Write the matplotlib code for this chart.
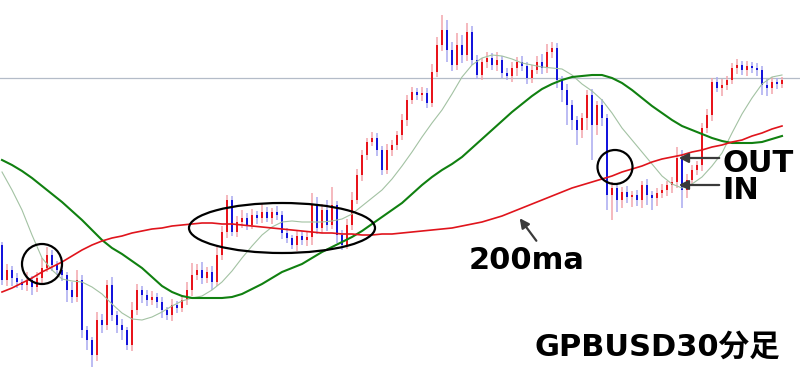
import matplotlib
matplotlib.use("Agg")
import matplotlib.pyplot as plt
from matplotlib.patches import Ellipse

# 30-minute candles, levels (top of chart = higher price)
first_open = 245
close = [
    280, 270, 278, 282, 285, 280, 287, 278, 268, 255,
    265, 270, 275, 290, 297, 280, 330, 340, 355, 320,
    325, 285, 315, 325, 330, 345, 310, 290, 295, 300,
    297, 302, 310, 315, 305, 308, 300, 290, 275, 270,
    278, 272, 282, 255, 232, 200, 232, 222, 218, 225,
    215, 218, 212, 218, 212, 215, 233, 238, 245, 236,
    240, 237, 205, 228, 210, 225, 205, 235, 245, 225,
    200, 175, 155, 142, 138, 150, 170, 150, 145, 135,
    120, 100, 92, 95, 93, 103, 72, 45, 30, 50,
    65, 45, 55, 32, 60, 75, 62, 58, 65, 60,
    73, 76, 68, 62, 66, 78, 70, 62, 68, 52,
    48, 80, 90, 105, 120, 130, 118, 95, 125, 105,
    118, 195, 188, 200, 192, 197, 195, 200, 185, 195,
    198, 193, 190, 185, 182, 158, 190, 180, 170, 165,
    128, 115, 82, 88, 85, 80, 68, 65, 70, 66,
    68, 70, 85, 88, 82, 84, 80,
]
upper_wick = [
    3, 6, 4, 5, 3, 8, 4, 6, 10, 8,
    5, 4, 6, 3, 8, 10, 5, 4, 3, 8,
    6, 5, 8, 4, 6, 3, 8, 6, 4, 5,
    6, 4, 5, 3, 6, 4, 5, 8, 12, 6,
    8, 5, 6, 8, 6, 5, 4, 6, 8, 5,
    6, 4, 8, 5, 4, 6, 4, 5, 3, 6,
    5, 6, 12, 8, 6, 10, 18, 4, 5, 6,
    8, 6, 5, 4, 6, 5, 4, 6, 5, 4,
    6, 5, 5, 4, 6, 5, 8, 8, 15, 10,
    8, 12, 10, 9, 6, 5, 4, 6, 5, 8,
    4, 5, 6, 5, 6, 4, 5, 6, 8, 8,
    6, 5, 4, 6, 5, 4, 5, 5, 6, 4,
    6, 4, 6, 4, 5, 6, 4, 5, 4, 6,
    4, 5, 6, 4, 5, 11, 8, 6, 5, 4,
    5, 6, 4, 5, 6, 4, 5, 6, 4, 5,
    4, 5, 4, 6, 5, 4, 3,
]
lower_wick = [
    5, 6, 8, 6, 5, 6, 8, 5, 6, 4,
    6, 5, 6, 12, 6, 5, 8, 10, 12, 6,
    8, 5, 6, 8, 10, 5, 6, 5, 8, 6,
    5, 6, 8, 5, 6, 5, 4, 5, 6, 5,
    6, 5, 8, 4, 5, 6, 4, 5, 6, 5,
    4, 6, 5, 4, 6, 5, 6, 5, 4, 6,
    5, 6, 8, 6, 5, 6, 4, 8, 5, 4,
    5, 4, 6, 5, 4, 6, 5, 4, 6, 5,
    5, 6, 4, 5, 6, 5, 4, 5, 6, 12,
    6, 5, 8, 6, 5, 4, 5, 6, 5, 6,
    5, 4, 6, 8, 5, 6, 5, 4, 6, 5,
    6, 8, 12, 20, 10, 15, 8, 12, 35, 10,
    8, 15, 25, 12, 8, 6, 10, 6, 8, 10,
    12, 8, 5, 6, 8, 6, 18, 8, 6, 5,
    6, 5, 6, 4, 8, 5, 4, 6, 5, 6,
    5, 6, 10, 8, 6, 5, 4,
]

# moving averages sampled every 2 bars
ma_bars = list(range(0, 157, 2))
ma200 = [292, 288, 283, 278, 272, 267, 262, 256, 250, 245,
         241, 238, 236, 233, 231, 229, 228, 226, 225, 224,
         223, 223, 224, 224, 225, 226, 227, 228, 229, 230,
         231, 232, 233, 233, 234, 234, 235, 235, 234, 234,
         233, 232, 231, 230, 229, 228, 226, 224, 222, 219,
         216, 212, 208, 204, 200, 196, 192, 188, 185, 182,
         179, 176, 172, 169, 166, 162, 159, 157, 155, 152,
         150, 147, 145, 142, 140, 136, 133, 129, 126]
ma75 = [160, 165, 171, 178, 186, 194, 202, 211, 220, 230,
        240, 248, 254, 261, 268, 277, 286, 292, 296, 298,
        298, 298, 298, 297, 294, 289, 284, 278, 272, 268,
        264, 258, 252, 247, 242, 237, 231, 224, 217, 210,
        203, 194, 185, 177, 170, 164, 157, 148, 139, 130,
        121, 112, 104, 96, 89, 84, 80, 77, 76, 75,
        75, 78, 83, 90, 98, 106, 113, 120, 126, 130,
        134, 138, 141, 143, 143, 143, 142, 139, 136]
ma20 = [172, 190, 210, 235, 258, 270, 279, 281, 282, 287,
        294, 304, 313, 319, 320, 317, 312, 306, 301, 298,
        296, 290, 282, 271, 258, 246, 235, 227, 222, 221,
        222, 222, 222, 221, 219, 214, 206, 198, 190, 179,
        166, 152, 137, 123, 110, 94, 77, 65, 58, 55,
        56, 59, 63, 65, 67, 68, 69, 75, 84, 91,
        100, 113, 128, 140, 152, 164, 176, 184, 188, 184,
        177, 166, 153, 133, 114, 98, 84, 77, 75]
ref_level = 78

opens = [first_open] + close[:-1]
bars = list(range(len(close)))

fig = plt.figure(figsize=(8, 3.75), dpi=100)
ax = fig.add_axes([0, 0, 1, 1])
ax.set_xlim(-0.4, 159.6)
ax.set_ylim(375, 0)
ax.axis("off")

ax.axhline(ref_level, color="#b4bcc8", lw=0.9, zorder=1)

for i in bars:
    o, c = opens[i], close[i]
    top, bot = min(o, c), max(o, c)
    up = c <= o  # price rose (screen level went up)
    body_col = "#e8141c" if up else "#1414dc"
    wick_col = "#f3a6ac" if up else "#aaaaf0"
    ax.vlines(i, top - upper_wick[i], bot + lower_wick[i], color=wick_col, lw=1.1, zorder=2)
    ax.bar(i, max(bot - top, 1), bottom=top, width=0.45, color=body_col, lw=0, zorder=3)

ax.plot(ma_bars, ma20, color="#a3c2a3", lw=0.8, zorder=4)
ax.plot(ma_bars, ma75, color="#108010", lw=1.5, zorder=4)
ax.plot(ma_bars, ma200, color="#e0141c", lw=1.2, zorder=4)


def px(x, y):
    return (x / 800, 1 - y / 375)


# circles marking the crossings
for (cx, cy), w, h in [((42, 264), 40, 40), ((282, 228), 186, 50), ((615, 167), 35, 34)]:
    ax.add_patch(Ellipse(px(cx, cy), w / 800, h / 375, transform=ax.transAxes,
                         fill=False, ec="black", lw=1.6, zorder=6))

arrow = dict(arrowstyle="-|>", color="#3a3a3a", lw=1.6, mutation_scale=14)
ax.annotate("", xy=px(518, 216), xytext=px(538, 243), xycoords="axes fraction",
            textcoords="axes fraction", arrowprops=arrow, zorder=7)
ax.annotate("", xy=px(676, 158), xytext=px(722, 158), xycoords="axes fraction",
            textcoords="axes fraction", arrowprops=arrow, zorder=7)
ax.annotate("", xy=px(676, 185), xytext=px(722, 185), xycoords="axes fraction",
            textcoords="axes fraction", arrowprops=arrow, zorder=7)

bold = dict(fontsize=22, fontweight="bold", color="black", transform=ax.transAxes, zorder=8)
ax.text(*px(527, 269), "200ma", ha="center", va="baseline", **bold)
ax.text(*px(722, 172), "OUT", ha="left", va="baseline", **bold)
ax.text(*px(722, 199), "IN", ha="left", va="baseline", **bold)
ax.text(*px(534, 356), "GPBUSD30分足", ha="left", va="baseline",
        family=["DejaVu Sans", "Noto Sans CJK JP"], **bold)

fig.savefig("out.png", dpi=100, facecolor="white")
